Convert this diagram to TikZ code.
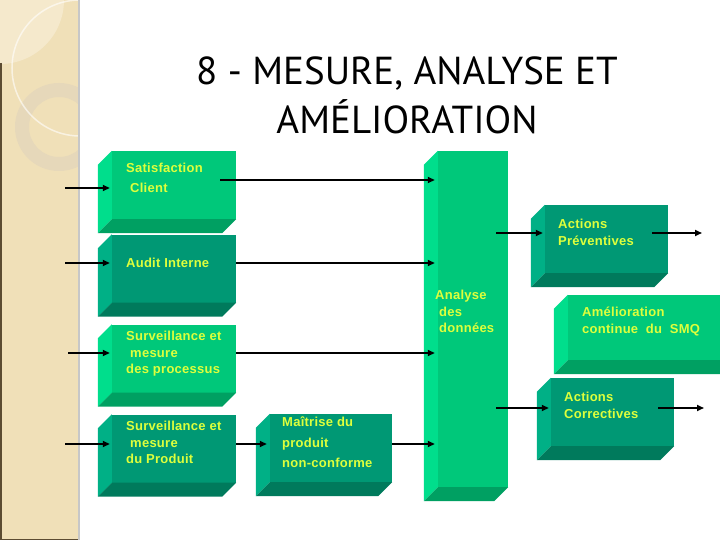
\documentclass[tikz,border=0pt]{standalone}
\usepackage{fontspec}
\setmainfont{Liberation Sans}
\newfontfamily\boxfont{Liberation Sans}[LetterSpace=2]
\newfontfamily\titlefont{PT Sans}
\usetikzlibrary{positioning, arrows.meta, calc}

\definecolor{strip}{RGB}{240,224,184}
\definecolor{stripLight}{RGB}{245,233,204}
\definecolor{stripRing}{RGB}{230,216,186}
\definecolor{stripEdge}{RGB}{92,76,50}
\definecolor{litefront}{RGB}{0,200,122}
\definecolor{liteside}{RGB}{0,222,140}
\definecolor{litebot}{RGB}{0,160,98}
\definecolor{darkfront}{RGB}{0,152,116}
\definecolor{darkside}{RGB}{0,176,134}
\definecolor{darkbot}{RGB}{0,122,92}
\definecolor{boxText}{RGB}{222,255,60}

\begin{document}
\begin{tikzpicture}[x=1pt, y=-1pt,
    face/.style={inner sep=0pt, minimum width=124pt, minimum height=68pt},
    lite/.style={face, fill=litefront},
    dark/.style={face, fill=darkfront},
    txt/.style={anchor=north west, inner sep=0pt, align=left, text=boxText,
        font=\boxfont\bfseries\fontsize{13}{16.5}\selectfont},
    arr/.style={line width=1.6pt, -{Triangle[length=7pt,width=6pt]}}]
    \useasboundingbox (0,0) rectangle (720,540);

    % left strip
    \fill[strip] (0,0) rectangle (78,540);
    \begin{scope}
        \clip (0,0) rectangle (78,540);
        \fill[stripLight] (0,0) circle[radius=64];
        \fill[stripRing, even odd rule] (59,127) circle[radius=44] (59,127) circle[radius=30];
        \draw[white, line width=1.5pt, opacity=0.6] (80,68) circle[radius=68];
    \end{scope}
    \draw[stripEdge, line width=1.5pt] (0.75,63) -- (0.75,539.25) -- (78,539.25);
    \draw[black!22, line width=1.5pt] (78.75,0) -- (78.75,540);

    % title
    \node[font=\titlefont\fontsize{39}{49}\selectfont, align=center] (title) at (407,95)
        {8 - MESURE, ANALYSE ET\\AMÉLIORATION};

    % blocks
    \node[lite] (sat) at (174,185) {};
    \node[dark] (aud) at (174,268.5) {};
    \node[lite] (proc) at (174,358.5) {};
    \node[dark] (prod) at (174,448.5) {};
    \node[dark, minimum width=122pt] (mait) at (331,448) {};
    \node[lite, minimum width=70pt, minimum height=336pt] (ana) at (473,319) {};
    \node[dark, minimum width=123pt] (prev) at (606.5,239) {};
    \node[lite, minimum width=167pt, minimum height=65pt] (amel) at (651.5,327.5) {};
    \node[dark, minimum width=123pt] (corr) at (612.5,412) {};

    \foreach \n/\k in {sat/lite, aud/dark, proc/lite, prod/dark, mait/dark,
                       ana/lite, prev/dark, amel/lite, corr/dark} {
        \fill[\k side] (\n.north west) -- ++(-14,14) -- ($(\n.south west)+(-14,14)$)
            -- (\n.south west) -- cycle;
        \fill[\k bot] (\n.south west) -- ++(-14,14) -- ($(\n.south east)+(-14,14)$)
            -- (\n.south east) -- cycle;
    }

    % texts
    \node[txt, font=\boxfont\bfseries\fontsize{13}{20}\selectfont] (sat-t) at (126,163)
        {Satisfaction\\\hspace*{4pt}Client};
    \node[txt] (aud-t) at (126,258) {Audit Interne};
    \node[txt] (proc-t) at (126,331) {Surveillance et\\\hspace*{4pt}mesure\\des processus};
    \node[txt] (prod-t) at (126,421) {Surveillance et\\\hspace*{4pt}mesure\\du Produit};
    \node[txt, font=\boxfont\bfseries\fontsize{13}{20.5}\selectfont] (mait-t) at (282,417)
        {Maîtrise du\\produit\\non-conforme};
    \node[txt] (ana-t) at (435,290) {Analyse\\\hspace*{4pt}des\\\hspace*{4pt}données};
    \node[txt] (prev-t) at (558,219) {Actions\\Préventives};
    \node[txt] (amel-t) at (582,307) {Amélioration\\continue\ \ du\ \ SMQ};
    \node[txt] (corr-t) at (564,392) {Actions\\Correctives};

    % connectors
    \coordinate (in1) at (65,188);
    \coordinate (in2) at (65,263);
    \coordinate (in3) at (68,353);
    \coordinate (in4) at (65,444);
    \coordinate (s1) at (220,180);
    \coordinate (a1) at (496,233);
    \coordinate (a2) at (496,408);
    \coordinate (p1) at (652,233);
    \coordinate (p2) at (702,233);
    \coordinate (c1) at (658,408);
    \coordinate (c2) at (704,408);

    \draw[arr, shorten >=2pt] (in1) -- (in1 -| sat.west);
    \draw[arr, shorten >=2pt] (in2) -- (in2 -| aud.west);
    \draw[arr, shorten >=2pt] (in3) -- (in3 -| proc.west);
    \draw[arr, shorten >=2pt] (in4) -- (in4 -| prod.west);
    \draw[arr, shorten >=3pt] (s1) -- (s1 -| ana.west);
    \draw[arr, shorten >=3pt] (in2 -| aud.east) -- (in2 -| ana.west);
    \draw[arr, shorten >=3pt] (in3 -| proc.east) -- (in3 -| ana.west);
    \draw[arr, shorten >=3pt] (in4 -| prod.east) -- (in4 -| mait.west);
    \draw[arr, shorten >=3pt] (in4 -| mait.east) -- (in4 -| ana.west);
    \draw[arr, shorten >=2pt] (a1) -- (a1 -| prev.west);
    \draw[arr, shorten >=2pt] (a2) -- (a2 -| corr.west);
    \draw[arr] (p1) -- (p2);
    \draw[arr] (c1) -- (c2);
\end{tikzpicture}
\end{document}
